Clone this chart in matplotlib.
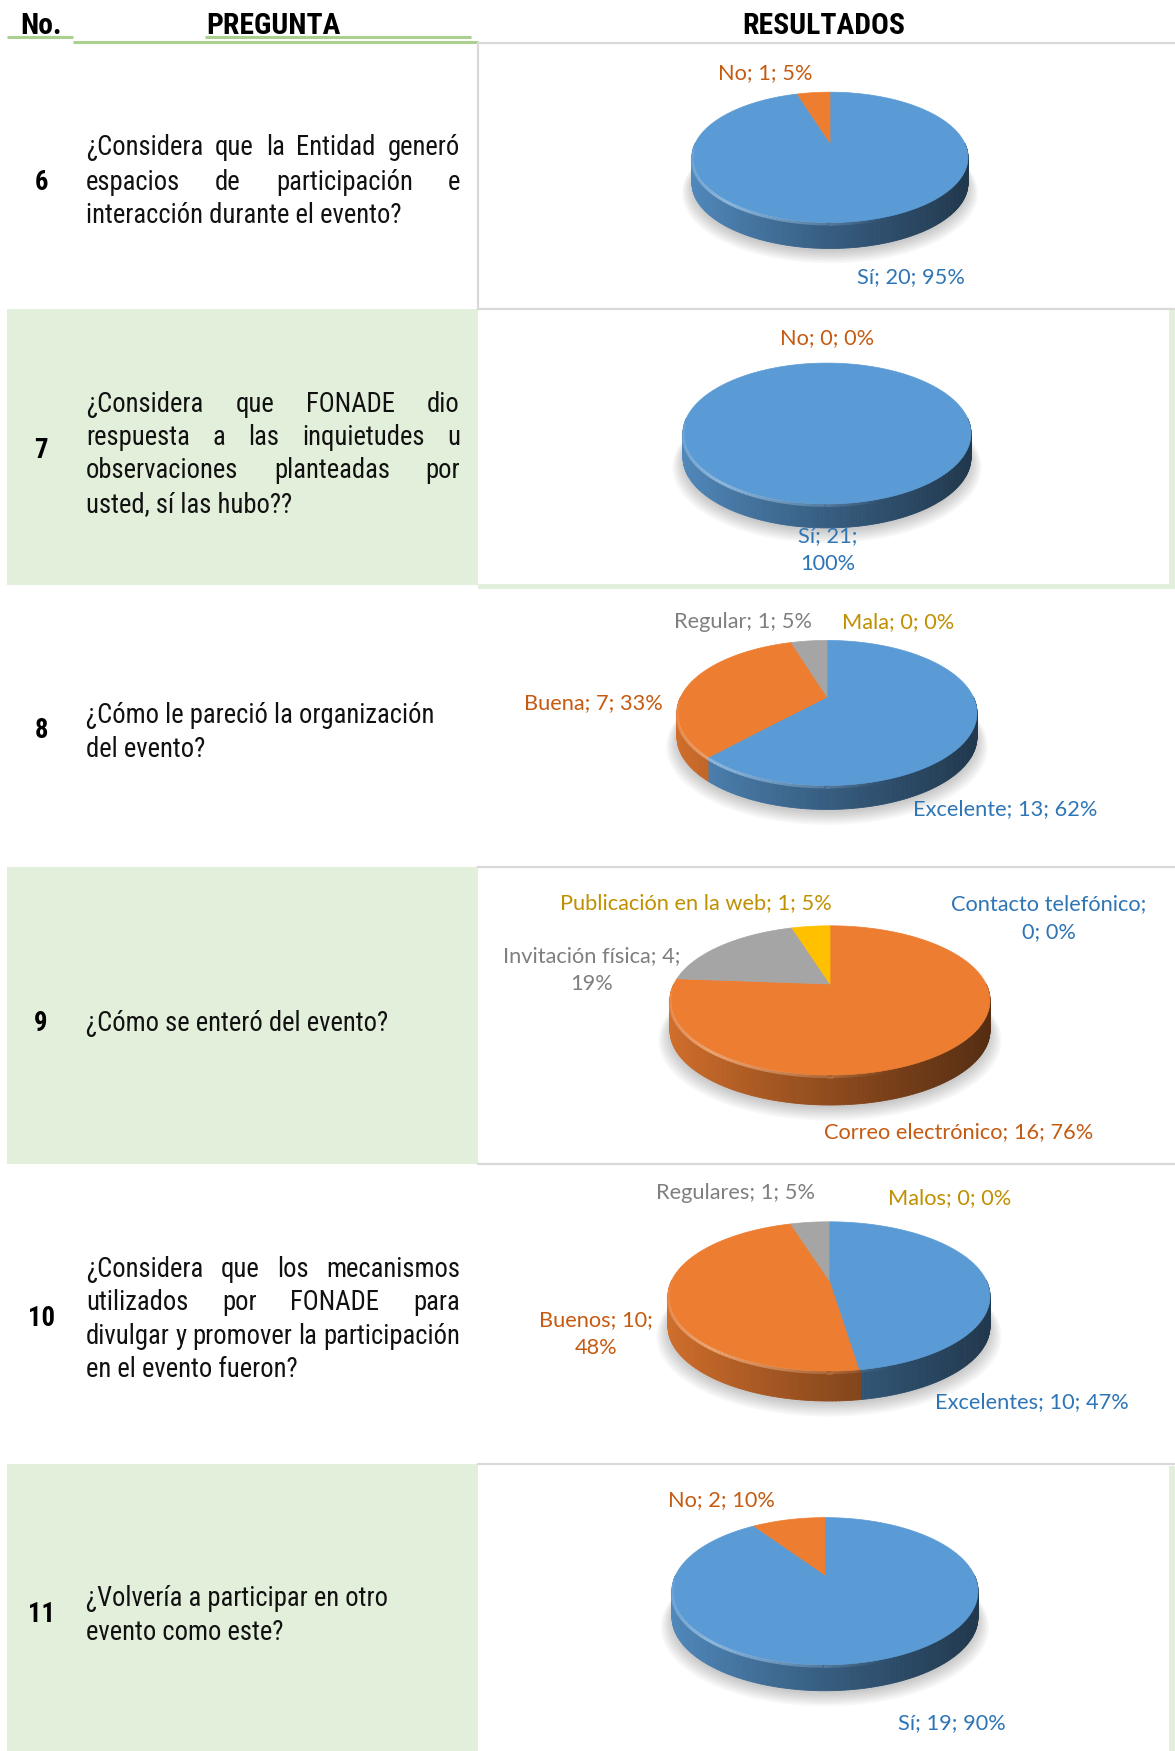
import numpy as np
import matplotlib.pyplot as plt
import matplotlib.colors as mcolors
from matplotlib import font_manager
from matplotlib.patches import Polygon, Rectangle
from matplotlib.collections import PolyCollection, LineCollection

W, H = 1175, 1751

# ---- data ----
numbers = ['6', '7', '8', '9', '10', '11']
questions = [
    ['¿Considera que la Entidad generó', 'espacios de participación e',
     'interacción durante el evento?'],
    ['¿Considera que FONADE dio', 'respuesta a las inquietudes u',
     'observaciones planteadas por', 'usted, sí las hubo??'],
    ['¿Cómo le pareció la organización', 'del evento?'],
    ['¿Cómo se enteró del evento?'],
    ['¿Considera que los mecanismos', 'utilizados por FONADE para',
     'divulgar y promover la participación', 'en el evento fueron?'],
    ['¿Volvería a participar en otro', 'evento como este?'],
]
justified = [True, True, False, False, True, False]

q6_names = ['Sí', 'No']
q6_values = [20, 1]
q6_pcts = ['95%', '5%']

q7_names = ['Sí', 'No']
q7_values = [21, 0]
q7_pcts = ['100%', '0%']

q8_names = ['Excelente', 'Buena', 'Regular', 'Mala']
q8_values = [13, 7, 1, 0]
q8_pcts = ['62%', '33%', '5%', '0%']

q9_names = ['Contacto telefónico', 'Correo electrónico', 'Invitación física',
            'Publicación en la web']
q9_values = [0, 16, 4, 1]
q9_pcts = ['0%', '76%', '19%', '5%']

q10_names = ['Excelentes', 'Buenos', 'Regulares', 'Malos']
q10_values = [10, 10, 1, 0]
q10_pcts = ['47%', '48%', '5%', '0%']

q11_names = ['Sí', 'No']
q11_values = [19, 2]
q11_pcts = ['90%', '10%']

# excel palette: slice colours and label colours
slice_colors = ['#5B9BD5', '#ED7D31', '#A5A5A5', '#FFC000']
label_colors = ['#2E75B6', '#C55A11', '#7F7F7F', '#BF9000']

GREEN_BG = '#E2EFDA'
GREEN_LINE = '#A9D08E'
GRID = '#D9D9D9'

# ---- fonts ----
names = {f.name for f in font_manager.fontManager.ttflist}
qfont = None
for n in ['Liberation Sans Narrow', 'Arial Narrow', 'Roboto Condensed',
          'Noto Sans Condensed', 'Open Sans Condensed']:
    if n in names:
        qfont = {'family': n}
        break
if qfont is None:
    for n in ['Liberation Sans', 'Noto Sans', 'DejaVu Sans']:
        cond = [f for f in font_manager.fontManager.ttflist
                if f.name == n and 'condensed' in str(f.stretch)]
        if cond:
            qfont = {'family': n, 'stretch': 'condensed'}
            break
if qfont is None:
    qfont = {'family': 'Liberation Sans'}
lfont = 'Lato' if 'Lato' in names else 'Open Sans'

fig = plt.figure(figsize=(W / 100, H / 100), dpi=100)
ax = fig.add_axes([0, 0, 1, 1])
ax.set_xlim(0, W)
ax.set_ylim(H, 0)
ax.axis('off')
renderer = fig.canvas.get_renderer()


def text_width(s, **kw):
    t = ax.text(0, 0, s, **kw)
    w = t.get_window_extent(renderer).width
    t.remove()
    return w


# sizes matched to widths measured on the picture
q_size = 20 * 374 / text_width('divulgar y promover la participación', fontsize=20, **qfont)
h_size = 20 * 134 / text_width('PREGUNTA', fontsize=20, weight='bold', **qfont)
l_size = 15 * 270 / text_width('Correo electrónico; 16; 76%', fontsize=15, family=lfont)

# ---- table frame ----
row_edges = [43, 309, 585, 867, 1164, 1464, 1751]
for i in (1, 3, 5):
    ax.add_patch(Rectangle((7, row_edges[i]), 471, row_edges[i + 1] - row_edges[i],
                           fc=GREEN_BG, ec='none', zorder=0))

ax.plot([7, 73], [37, 37], color=GREEN_LINE, lw=2.2, solid_capstyle='butt')
ax.plot([205, 471], [37, 37], color=GREEN_LINE, lw=2.2, solid_capstyle='butt')
ax.plot([73, 478], [42.5, 42.5], color=GREEN_LINE, lw=2.2, solid_capstyle='butt')
ax.plot([478, 1175], [43, 43], color=GRID, lw=1.6)
ax.plot([478, 478], [43, 309], color=GRID, lw=1.6)
for y in (309, 867, 1164, 1464):
    ax.plot([478, 1175], [y, y], color=GRID, lw=1.6)
ax.add_patch(Rectangle((478, 584), 697, 5, fc=GREEN_BG, ec='none'))
ax.add_patch(Rectangle((1169, 310), 6, 278, fc=GREEN_BG, ec='none'))
ax.add_patch(Rectangle((1169, 1466), 6, 285, fc=GREEN_BG, ec='none'))

hdr = dict(fontsize=h_size, weight='bold', color='black', va='baseline', ha='center', **qfont)
ax.text(41, 34, 'No.', **hdr)
ax.text(273, 34, 'PREGUNTA', **hdr)
ax.text(824, 34, 'RESULTADOS', **hdr)

# ---- question column ----
line_ys = [[145, 180, 213], [402, 435, 468, 502], [713, 747], [1021],
           [1267, 1300, 1334, 1367], [1596, 1630]]
number_ys = [180, 448, 728, 1021, 1316, 1612]
X0, X1 = 86, 460
fs_px = q_size * 100 / 72
base_off = 0.36 * fs_px
qkw = dict(fontsize=q_size, color='#111111', va='baseline', ha='left', **qfont)

for lines, ys, just, num, ny in zip(questions, line_ys, justified, numbers, number_ys):
    ax.text(41, ny + base_off, num, fontsize=q_size, weight='bold', color='black',
            va='baseline', ha='center', **qfont)
    for j, (line, y) in enumerate(zip(lines, ys)):
        if just and j < len(lines) - 1:
            words = line.split()
            widths = [text_width(w, fontsize=q_size, **qfont) for w in words]
            gap = (X1 - X0 - sum(widths)) / (len(words) - 1)
            x = X0
            for w, ww in zip(words, widths):
                ax.text(x, y + base_off, w, **qkw)
                x += ww + gap
        else:
            ax.text(X0, y + base_off, line, **qkw)

# ---- 3d pies ----
P = 0.22  # perspective strength


def proj(cx, tip, a, b, th):
    s = np.sin(th)
    k = 1.0 / (1 + P * s)
    return cx + a * np.cos(th) * k, tip - b * s * k


def lighten(c, f):
    rgb = np.array(mcolors.to_rgb(c))
    return tuple(rgb + (1 - rgb) * f)


def pie3d(cx, tip, rx, b, depth, values):
    a = rx * np.sqrt(1 - P ** 2)
    total = float(sum(values))
    th = np.linspace(0, 2 * np.pi, 240)
    x, y = proj(cx, tip, a, b, th)
    # soft shadow
    for k in range(7):
        sc = 1 + 0.012 * k
        ax.add_patch(Polygon(np.c_[cx + (x - cx) * sc, tip + (y - tip) * sc + depth + 3 + k],
                             closed=True, fc='black', ec='none', alpha=0.03, zorder=2))
    bounds = [np.pi / 2]
    for v in values:
        bounds.append(bounds[-1] - 2 * np.pi * v / total)

    def owner(t):
        for i in range(len(values)):
            if bounds[i] >= t > bounds[i + 1] or (bounds[i] >= t + 2 * np.pi > bounds[i + 1]):
                return i
        return 0

    # side wall with left-to-right shading
    seg = np.linspace(0, -np.pi, 181)
    left, right = cx - rx, cx + rx
    quads, cols = [], []
    for t0, t1 in zip(seg[:-1], seg[1:]):
        i = owner((t0 + t1) / 2)
        xa, ya = proj(cx, tip, a, b, t0)
        xb, yb = proj(cx, tip, a, b, t1)
        quads.append([(xa, ya), (xb, yb), (xb, yb + depth), (xa, ya + depth)])
        tt = np.clip(((xa + xb) / 2 - left) / (right - left), 0, 1)
        f = 0.88 - 0.52 * tt ** 0.9
        cols.append(tuple(np.array(mcolors.to_rgb(slice_colors[i])) * f))
    ax.add_collection(PolyCollection(quads, facecolors=cols, edgecolors=cols,
                                     linewidths=0.6, zorder=3))
    # top face
    for i, v in enumerate(values):
        if v == 0:
            continue
        n = max(3, int(240 * v / total))
        ts = np.linspace(bounds[i], bounds[i + 1], n)
        px, py = proj(cx, tip, a, b, ts)
        pts = np.c_[px, py]
        if v < total:
            pts = np.vstack([[cx, tip], pts])
        ax.add_patch(Polygon(pts, closed=True, fc=slice_colors[i], ec=slice_colors[i],
                             lw=0.5, zorder=4))
    # bevel highlight on the front rim
    hs = np.linspace(-0.05, -np.pi + 0.05, 120)
    segs, hcols = [], []
    for t0, t1 in zip(hs[:-1], hs[1:]):
        xa, ya = proj(cx, tip, a, b, t0)
        xb, yb = proj(cx, tip, a, b, t1)
        segs.append([(xa, ya + 1.5), (xb, yb + 1.5)])
        tm = (t0 + t1) / 2
        al = max(0.0, 1 - abs(tm + 2.25) / 1.0) * 0.85
        hcols.append(lighten(slice_colors[owner(tm)], 0.4) + (al,))
    ax.add_collection(LineCollection(segs, colors=hcols, linewidths=2.2, zorder=5))


def labels(names_, values, pcts, spots):
    for i, (nm, v, pc) in enumerate(zip(names_, values, pcts)):
        x, y, brk = spots[i]
        parts = [nm, str(v), pc]
        if brk == 1:
            s = parts[0] + ';\n' + '; '.join(parts[1:])
        elif brk == 2:
            s = '; '.join(parts[:2]) + ';\n' + parts[2]
        else:
            s = '; '.join(parts)
        ax.text(x, y, s, fontsize=l_size, family=lfont, color=label_colors[i],
                ha='center', va='center', linespacing=1.45, zorder=6)


# pie placements: centre x, tip y, half width, vertical radius, wall depth
pie3d(830, 143, 138, 62, 26, q6_values)
labels(q6_names, q6_values, q6_pcts, [(911, 277, 0), (765, 73, 0)])

pie3d(827, 418, 144, 67, 24, q7_values)
labels(q7_names, q7_values, q7_pcts, [(828, 550, 2), (827, 338, 0)])

pie3d(827, 697, 150, 69, 24, q8_values)
labels(q8_names, q8_values, q8_pcts,
       [(1005, 809, 0), (593, 703, 0), (743, 622, 0), (898, 622, 0)])

pie3d(830, 984, 160, 71, 30, q9_values)
labels(q9_names, q9_values, q9_pcts,
       [(1049, 918, 1), (959, 1132, 0), (592, 970, 2), (696, 903, 0)])

pie3d(829, 1280, 161, 71, 30, q10_values)
labels(q10_names, q10_values, q10_pcts,
       [(1032, 1402, 0), (596, 1334, 2), (735, 1193, 0), (950, 1198, 0)])

pie3d(825, 1575, 153, 70, 26, q11_values)
labels(q11_names, q11_values, q11_pcts, [(952, 1723, 0), (721, 1500, 0)])

fig.savefig('out.png', dpi=100)
